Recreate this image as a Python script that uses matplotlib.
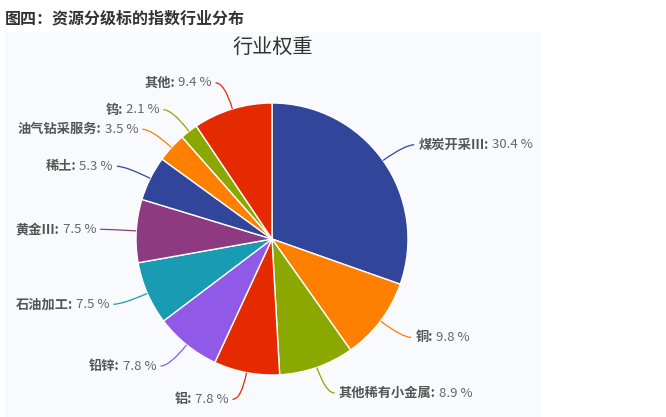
import numpy as np
import matplotlib
matplotlib.use('Agg')
import matplotlib.pyplot as plt
from matplotlib.patches import Rectangle, PathPatch
from matplotlib.path import Path

plt.rcParams['font.family'] = ['Noto Sans CJK SC', 'DejaVu Sans']

# 行业权重 (%), clockwise from 12 o'clock
industries = ['煤炭开采III', '铜', '其他稀有小金属', '铝', '铅锌', '石油加工',
              '黄金III', '稀土', '油气钻采服务', '钨', '其他']
weights = [30.4, 9.8, 8.9, 7.8, 7.8, 7.5, 7.5, 5.3, 3.5, 2.1, 9.4]
colors = ['#31469b', '#ff7f00', '#8aa800', '#e62a00', '#9059e8', '#1a9bb4',
          '#8e3a80', '#31469b', '#ff7f00', '#8aa800', '#e62a00']

W, H = 666, 417
fig = plt.figure(figsize=(W / 100, H / 100), dpi=100)
fig.patches.append(Rectangle((5 / W, 0), 535 / W, (H - 32) / H,
                             transform=fig.transFigure, color='#f9fafd', zorder=-5))
fig.text(5 / W, 1 - 18 / H, '图四：资源分级标的指数行业分布', fontsize=11.5,
         fontweight='bold', color='#333333', va='center', ha='left')

ax = fig.add_axes([0, 0, 1, 1])
ax.set_zorder(2)
ax.patch.set_alpha(0)
cx, cy, r = 272, H - 239, 136
wedges, _ = ax.pie(weights, colors=colors, startangle=90, counterclock=False,
                   center=(cx, cy), radius=r,
                   wedgeprops=dict(edgecolor='white', linewidth=1))
ax.set_xlim(0, W)
ax.set_ylim(0, H)
ax.set_aspect('auto')
ax.axis('off')

ax.text(cx + 1, H - 47, '行业权重', fontsize=14.5, color='#333333',
        ha='center', va='center')

fig.canvas.draw()
renderer = fig.canvas.get_renderer()

for w, name, val, c in zip(wedges, industries, weights, colors):
    th = np.deg2rad((w.theta1 + w.theta2) / 2)
    x0, y0 = cx + r * np.cos(th), cy + r * np.sin(th)
    x1, y1 = cx + 1.2 * r * np.cos(th), cy + 1.2 * r * np.sin(th)
    side = 1 if np.cos(th) >= 0 else -1
    x2, y2 = x1 + side * 9, y1
    path = Path([(x0, y0), (x1, y1), (x2, y2)],
                [Path.MOVETO, Path.CURVE3, Path.CURVE3])
    ax.add_patch(PathPatch(path, fill=False, edgecolor=c, lw=0.9))
    name_txt = name + ':'
    val_txt = ' %.1f %%' % val
    if side > 0:
        t = ax.text(x2 + 4, y2, name_txt, fontsize=9.5, fontweight='bold',
                    color='#555555', ha='left', va='center')
        wd = t.get_window_extent(renderer).width
        ax.text(x2 + 4 + wd, y2, val_txt, fontsize=9.5, color='#666666',
                ha='left', va='center')
    else:
        t = ax.text(x2 - 4, y2, val_txt, fontsize=9.5, color='#666666',
                    ha='right', va='center')
        wd = t.get_window_extent(renderer).width
        ax.text(x2 - 4 - wd, y2, name_txt, fontsize=9.5, fontweight='bold',
                color='#555555', ha='right', va='center')

fig.savefig('out.png', dpi=100)
